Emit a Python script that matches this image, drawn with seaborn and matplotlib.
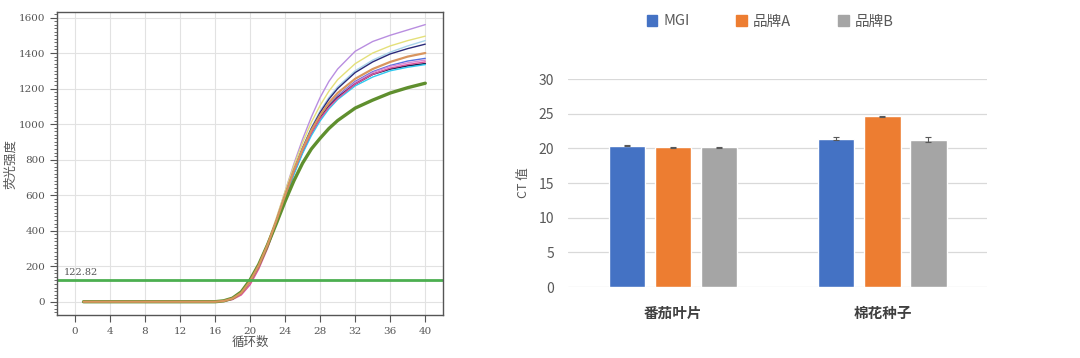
import pandas as pd
import matplotlib.pyplot as plt
import seaborn as sns
from matplotlib.ticker import MultipleLocator

# Left panel: amplification curves (fluorescence vs cycle)
cycles = [1, 16, 17, 18, 19, 20, 21, 22, 23, 24, 25, 26, 27, 28, 29, 30, 32, 34, 36, 38, 40]
curve_purple = [0, 0, 4, 17, 48, 112, 205, 325, 465, 620, 775, 915, 1040, 1150, 1240, 1310, 1410, 1465, 1500, 1530, 1560]
curve_yellow = [0, 0, 4, 18, 50, 116, 210, 330, 470, 620, 765, 895, 1010, 1105, 1185, 1250, 1340, 1400, 1440, 1470, 1495]
curve_lightblue = [0, 0, 4, 18, 50, 115, 208, 325, 460, 605, 745, 870, 980, 1075, 1150, 1210, 1300, 1360, 1405, 1440, 1470]
curve_navy = [0, 0, 4, 18, 50, 114, 205, 320, 455, 600, 740, 865, 975, 1065, 1140, 1200, 1290, 1350, 1395, 1425, 1450]
curve_blue = [0, 0, 4, 18, 49, 113, 203, 318, 450, 592, 730, 850, 955, 1040, 1108, 1160, 1240, 1295, 1330, 1355, 1370]
curve_violet = [0, 0, 3, 15, 44, 105, 195, 310, 445, 590, 730, 850, 955, 1040, 1105, 1155, 1235, 1290, 1325, 1345, 1360]
curve_dark = [0, 0, 4, 18, 50, 114, 204, 318, 450, 590, 725, 845, 950, 1035, 1100, 1150, 1225, 1280, 1310, 1328, 1340]
curve_cyan = [0, 0, 4, 17, 48, 110, 198, 310, 440, 580, 715, 835, 935, 1018, 1085, 1138, 1215, 1265, 1300, 1320, 1335]
curve_magenta = [0, 0, 2, 12, 38, 95, 185, 300, 440, 590, 730, 850, 950, 1030, 1095, 1145, 1225, 1280, 1315, 1335, 1350]
curve_green = [0, 0, 5, 20, 55, 122, 210, 320, 440, 565, 680, 780, 860, 920, 975, 1020, 1090, 1135, 1175, 1205, 1230]
curve_salmon = [0, 0, 4, 18, 50, 115, 205, 320, 455, 600, 740, 860, 965, 1050, 1120, 1175, 1255, 1310, 1350, 1380, 1400]
threshold = 122.82

# Right panel: CT values
samples = ['番茄叶片', '棉花种子']
brands = ['MGI', '品牌A', '品牌B']
ct_mgi = [20.4, 21.4]
ct_a = [20.15, 24.65]
ct_b = [20.15, 21.25]
err_mgi = [0.05, 0.2]
err_a = [0.05, 0.05]
err_b = [0.05, 0.35]

sns.set_theme(style='white')
plt.rcParams['font.family'] = ['Noto Sans CJK SC', 'DejaVu Sans']

fig = plt.figure(figsize=(10.8, 3.58), dpi=100)

# ---- left: curves ----
ax1 = fig.add_axes([0.053, 0.120, 0.357, 0.846])
curves = [
    (curve_purple, '#b98ee0', 1.0),
    (curve_yellow, '#e4e07a', 1.0),
    (curve_lightblue, '#a8d4ea', 1.0),
    (curve_navy, '#2a2a7a', 1.0),
    (curve_blue, '#5570e0', 1.0),
    (curve_violet, '#d58ad8', 1.0),
    (curve_dark, '#1a2550', 1.2),
    (curve_cyan, '#30c8f0', 1.0),
    (curve_magenta, '#e0509a', 1.0),
    (curve_green, '#5f8f2e', 2.4),
    (curve_salmon, '#d8955e', 1.6),
]
for vals, col, lw in curves:
    sns.lineplot(x=cycles, y=vals, color=col, linewidth=lw, ax=ax1)

ax1.axhline(threshold, color='#4caf50', linewidth=2)
ax1.text(-1.2, threshold + 30, f'{threshold:.2f}', fontsize=7, color='#555555',
         family=['DejaVu Serif'])

ax1.set_xlim(-2, 42)
ax1.set_ylim(-75, 1630)
ax1.xaxis.set_major_locator(MultipleLocator(4))
ax1.yaxis.set_major_locator(MultipleLocator(200))
ax1.yaxis.set_minor_locator(MultipleLocator(20))
ax1.grid(True, color='#e2e2e2', linewidth=0.8)
ax1.tick_params(axis='both', which='major', direction='out', length=5, width=0.8,
                colors='#555555', labelsize=7.5, bottom=True, left=True)
ax1.tick_params(axis='y', which='minor', direction='out', length=2, width=0.6,
                color='#555555', left=True)
for lab in ax1.get_xticklabels() + ax1.get_yticklabels():
    lab.set_family(['DejaVu Serif'])
for s in ax1.spines.values():
    s.set_color('#555555')
    s.set_linewidth(1.0)
ax1.set_xlabel('循环数', fontsize=9, color='#555555', labelpad=0)
ax1.set_ylabel('荧光强度', fontsize=9, color='#555555')
ax1.yaxis.set_label_coords(-0.105, 0.5)

# ---- right: bar chart ----
ax2 = fig.add_axes([0.526, 0.198, 0.388, 0.581])
df = pd.DataFrame({
    'sample': samples * 3,
    'brand': [b for b in brands for _ in samples],
    'ct': ct_mgi + ct_a + ct_b,
    'err': err_mgi + err_a + err_b,
})
palette = {'MGI': '#4472c4', '品牌A': '#ed7d31', '品牌B': '#a5a5a5'}
sns.barplot(data=df, x='sample', y='ct', hue='brand', palette=palette,
            width=0.66, gap=0.21, errorbar=None, saturation=1, ax=ax2, legend=False)

for cont, brand in zip(ax2.containers, brands):
    sub = df[df['brand'] == brand]
    xs = [p.get_x() + p.get_width() / 2 for p in cont]
    ys = [p.get_height() for p in cont]
    ax2.errorbar(xs, ys, yerr=sub['err'].values, fmt='none', ecolor='#595959',
                 elinewidth=0.8, capsize=2.5, capthick=0.8)

ax2.set_xlim(-0.5, 1.5)
ax2.set_ylim(0, 30)
ax2.yaxis.set_major_locator(MultipleLocator(5))
ax2.grid(axis='y', color='#d9d9d9', linewidth=0.9)
ax2.set_axisbelow(True)
sns.despine(ax=ax2, left=True, bottom=True)
ax2.tick_params(axis='y', length=0, labelsize=10, labelcolor='#595959', pad=10)
ax2.tick_params(axis='x', length=0, labelsize=10.5, labelcolor='#404040', pad=13)
for lab in ax2.get_xticklabels():
    lab.set_fontweight('bold')
ax2.set_xlabel('')
ax2.set_ylabel('CT 值', fontsize=9, color='#595959', labelpad=6)

handles = [plt.Rectangle((0, 0), 1, 1, color=palette[b]) for b in brands]
fig.legend(handles, brands, loc='center', bbox_to_anchor=(0.713, 0.94), ncol=3,
           frameon=False, fontsize=10.5, handlelength=0.75, handleheight=0.75,
           handletextpad=0.4, columnspacing=3.2, labelcolor='#595959')

fig.savefig('out.png', dpi=100)
